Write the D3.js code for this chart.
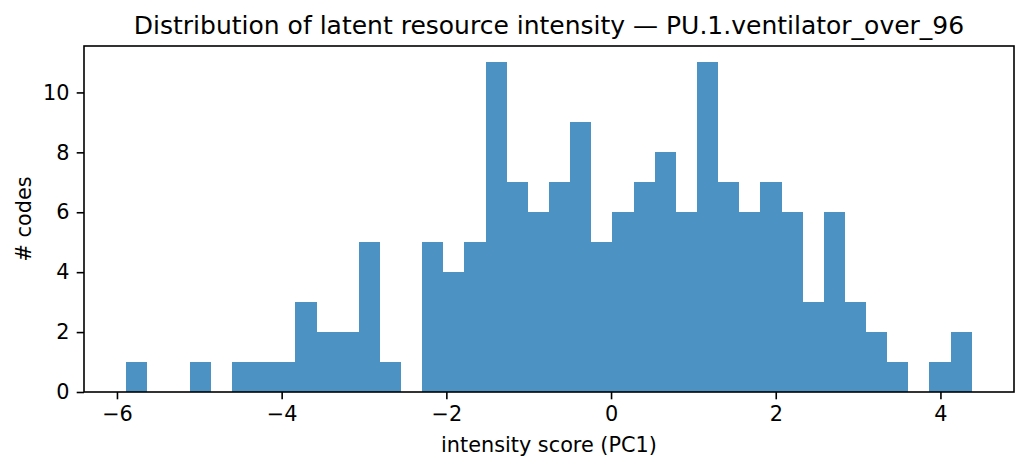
<!DOCTYPE html>
<html>
<head>
<meta charset="utf-8">
<script src="https://cdn.jsdelivr.net/npm/d3@7"></script>
<style>
  html, body { margin: 0; padding: 0; background: #fff; }
  svg { display: block; }
  text { font-family: "DejaVu Sans", sans-serif; fill: #000; }
</style>
</head>
<body>
<svg id="chart" width="1029" height="470"></svg>
<script>
// ---- data ----
const titleText = "Distribution of latent resource intensity — PU.1.ventilator_over_96";
const xLabel = "intensity score (PC1)";
const yLabel = "# codes";
const binStart = -5.887;   // left edge of first bin
const binEnd = 4.380;      // right edge of last bin
const counts = [1,0,0,1,0,1,1,1,3,2,2,5,1,0,5,4,5,11,7,6,7,9,5,6,7,8,6,11,7,6,7,6,3,6,3,2,1,0,1,2];
const xTicks = [-6, -4, -2, 0, 2, 4];
const yTicks = [0, 2, 4, 6, 8, 10];

// ---- layout ----
const W = 1029, H = 470;
const pL = 84, pR = 1014, pT = 46, pB = 392;
const svg = d3.select("#chart");

const nb = counts.length;
const bw = (binEnd - binStart) / nb;
const bins = counts.map((c, i) => ({ x0: binStart + i * bw, x1: binStart + (i + 1) * bw, c }));

const margin = 0.05 * (binEnd - binStart);
const x = d3.scaleLinear().domain([binStart - margin, binEnd + margin]).range([pL, pR]);
const yMax = d3.max(counts) * 1.05;
const y = d3.scaleLinear().domain([0, yMax]).range([pB, pT]);

// bars
svg.append("g").selectAll("rect").data(bins.filter(d => d.c > 0)).join("rect")
  .attr("x", d => x(d.x0))
  .attr("width", d => x(d.x1) - x(d.x0))
  .attr("y", d => y(d.c))
  .attr("height", d => y(0) - y(d.c))
  .attr("fill", "#1f77b4")
  .attr("fill-opacity", 0.8)
  .attr("shape-rendering", "crispEdges");

const fs = 20.8, tick = 7.3, pad = 7.3, lw = 1.6;
const fmt = v => (v < 0 ? "\u2212" + Math.abs(v) : String(v));

// x axis
const gx = svg.append("g").attr("transform", `translate(0,${pB})`)
  .call(d3.axisBottom(x).tickValues(xTicks).tickFormat(fmt).tickSize(tick).tickPadding(pad));
gx.select(".domain").remove();
gx.selectAll("line").attr("stroke", "#000").attr("stroke-width", lw);
gx.selectAll("text").style("font-size", fs + "px").attr("font-family", "DejaVu Sans").attr("fill", "#000");

// y axis
const gy = svg.append("g").attr("transform", `translate(${pL},0)`)
  .call(d3.axisLeft(y).tickValues(yTicks).tickFormat(fmt).tickSize(tick).tickPadding(pad));
gy.select(".domain").remove();
gy.selectAll("line").attr("stroke", "#000").attr("stroke-width", lw);
gy.selectAll("text").style("font-size", fs + "px").attr("font-family", "DejaVu Sans").attr("fill", "#000");

// frame (spines)
svg.append("rect")
  .attr("x", pL).attr("y", pT)
  .attr("width", pR - pL).attr("height", pB - pT)
  .attr("fill", "none").attr("stroke", "#000").attr("stroke-width", lw);

// title
svg.append("text")
  .attr("x", (pL + pR) / 2).attr("y", 34)
  .attr("text-anchor", "middle")
  .style("font-size", "25px")
  .text(titleText);

// x label
svg.append("text")
  .attr("x", (pL + pR) / 2).attr("y", 452)
  .attr("text-anchor", "middle")
  .style("font-size", fs + "px")
  .text(xLabel);

// y label
svg.append("text")
  .attr("transform", `translate(31,${(pT + pB) / 2}) rotate(-90)`)
  .attr("text-anchor", "middle")
  .style("font-size", fs + "px")
  .text(yLabel);
</script>
</body>
</html>
